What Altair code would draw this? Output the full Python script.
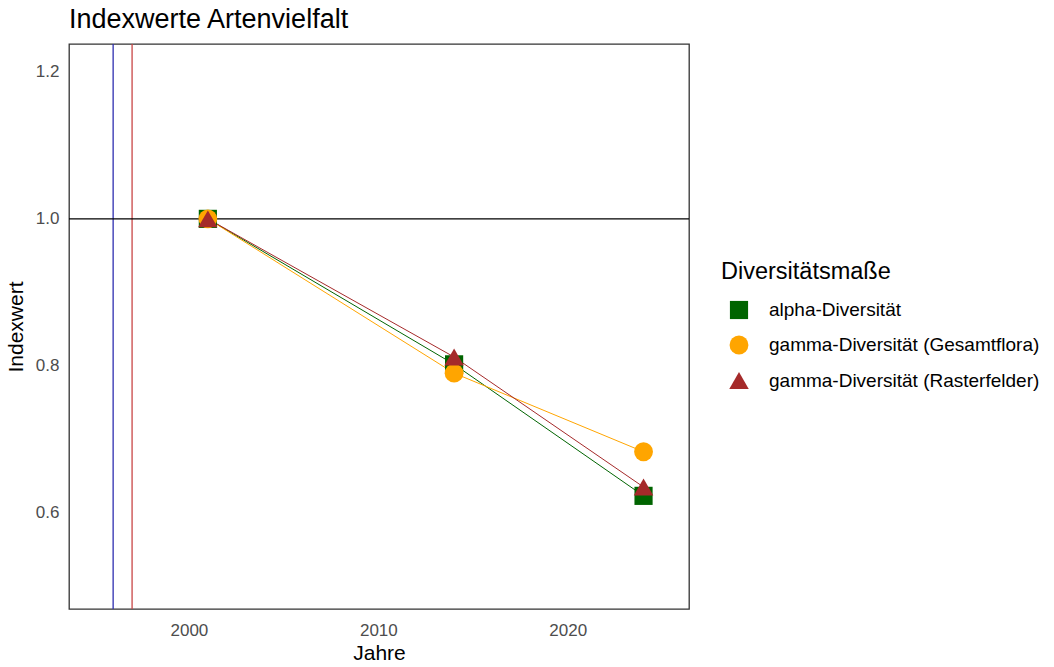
import altair as alt
import pandas as pd

years = [2001, 2014, 2024]
series_names = ["alpha-Diversität", "gamma-Diversität (Gesamtflora)", "gamma-Diversität (Rasterfelder)"]
alpha_vals = [1.0, 0.802, 0.623]
gamma_ges_vals = [1.0, 0.79, 0.683]
gamma_ras_vals = [1.0, 0.812, 0.635]
colors = ["#006400", "#FFA500", "#A52A2A"]
shapes = ["square", "circle", "triangle-up"]
sizes = [330, 380, 480]
vlines = [1996, 1997]
vline_colors = ["#2E2EB0", "#C84646"]
hline = [1.0]

rows = []
for name, vals in zip(series_names, [alpha_vals, gamma_ges_vals, gamma_ras_vals]):
    for y, v in zip(years, vals):
        rows.append({"Jahr": y, "Index": v, "Serie": name})
df = pd.DataFrame(rows)
hdf = pd.DataFrame({"y": hline})

font = "Liberation Sans"
xscale = alt.Scale(domain=[1993.67, 2026.4], nice=False, zero=False)
yscale = alt.Scale(domain=[0.469, 1.238], nice=False, zero=False)
color_scale = alt.Scale(domain=series_names, range=colors)
shape_scale = alt.Scale(domain=series_names, range=shapes)
size_scale = alt.Scale(domain=series_names, range=sizes)

xaxis = alt.Axis(title="Jahre", values=[2000, 2010, 2020], format="d", grid=False, ticks=False,
                 domain=False, labelColor="#4D4D4D", labelFontSize=17, labelFont=font,
                 titleFont=font, titleFontSize=21, titleFontWeight="normal", titleColor="black",
                 labelPadding=13, titlePadding=4)
yaxis = alt.Axis(title="Indexwert", values=[0.6, 0.8, 1.0, 1.2], format=".1f", grid=False, ticks=False,
                 domain=False, labelColor="#4D4D4D", labelFontSize=17, labelFont=font,
                 titleFont=font, titleFontSize=21, titleFontWeight="normal", titleColor="black",
                 labelPadding=10, titlePadding=9)

layers = []
for xv, cv in zip(vlines, vline_colors):
    layers.append(
        alt.Chart(pd.DataFrame({"x": [xv]})).mark_rule(strokeWidth=1.3, color=cv).encode(
            x=alt.X("x:Q", scale=xscale, axis=xaxis)
        )
    )
hrule = alt.Chart(hdf).mark_rule(color="black", strokeWidth=1.3).encode(
    y=alt.Y("y:Q", scale=yscale, axis=yaxis),
)
legend = alt.Legend(title="Diversitätsmaße", orient="none", legendX=652, legendY=216,
                    titleFont=font, titleFontSize=23.5, titleFontWeight="normal", titleColor="black",
                    labelFont=font, labelFontSize=19, labelColor="black", rowPadding=15,
                    symbolOpacity=1, titlePadding=17, labelOffset=20, symbolStrokeWidth=0,
                    labelLimit=400, padding=0, symbolOffset=8)
lines = alt.Chart(df).mark_line(strokeWidth=1).encode(
    x=alt.X("Jahr:Q", scale=xscale, axis=xaxis),
    y=alt.Y("Index:Q", scale=yscale, axis=yaxis),
    color=alt.Color("Serie:N", scale=color_scale, legend=legend),
    detail="Serie:N",
)
points = alt.Chart(df).mark_point(filled=True, opacity=1).encode(
    x=alt.X("Jahr:Q", scale=xscale, axis=xaxis),
    y=alt.Y("Index:Q", scale=yscale, axis=yaxis),
    color=alt.Color("Serie:N", scale=color_scale, legend=legend),
    shape=alt.Shape("Serie:N", scale=shape_scale, legend=legend),
    size=alt.Size("Serie:N", scale=size_scale, legend=legend),
)

chart = alt.layer(*layers, hrule, lines, points).properties(
    width=620, height=565,
    title=alt.Title("Indexwerte Artenvielfalt", anchor="start", frame="group", font=font,
                    fontSize=27, fontWeight="normal", color="black", offset=9),
    padding={"left": 5, "top": 6, "right": 5, "bottom": 5},
    background="white",
).configure_view(stroke="#333333", strokeWidth=1.3)

chart.save("out.html", embed_options={"renderer": "svg", "actions": False})
